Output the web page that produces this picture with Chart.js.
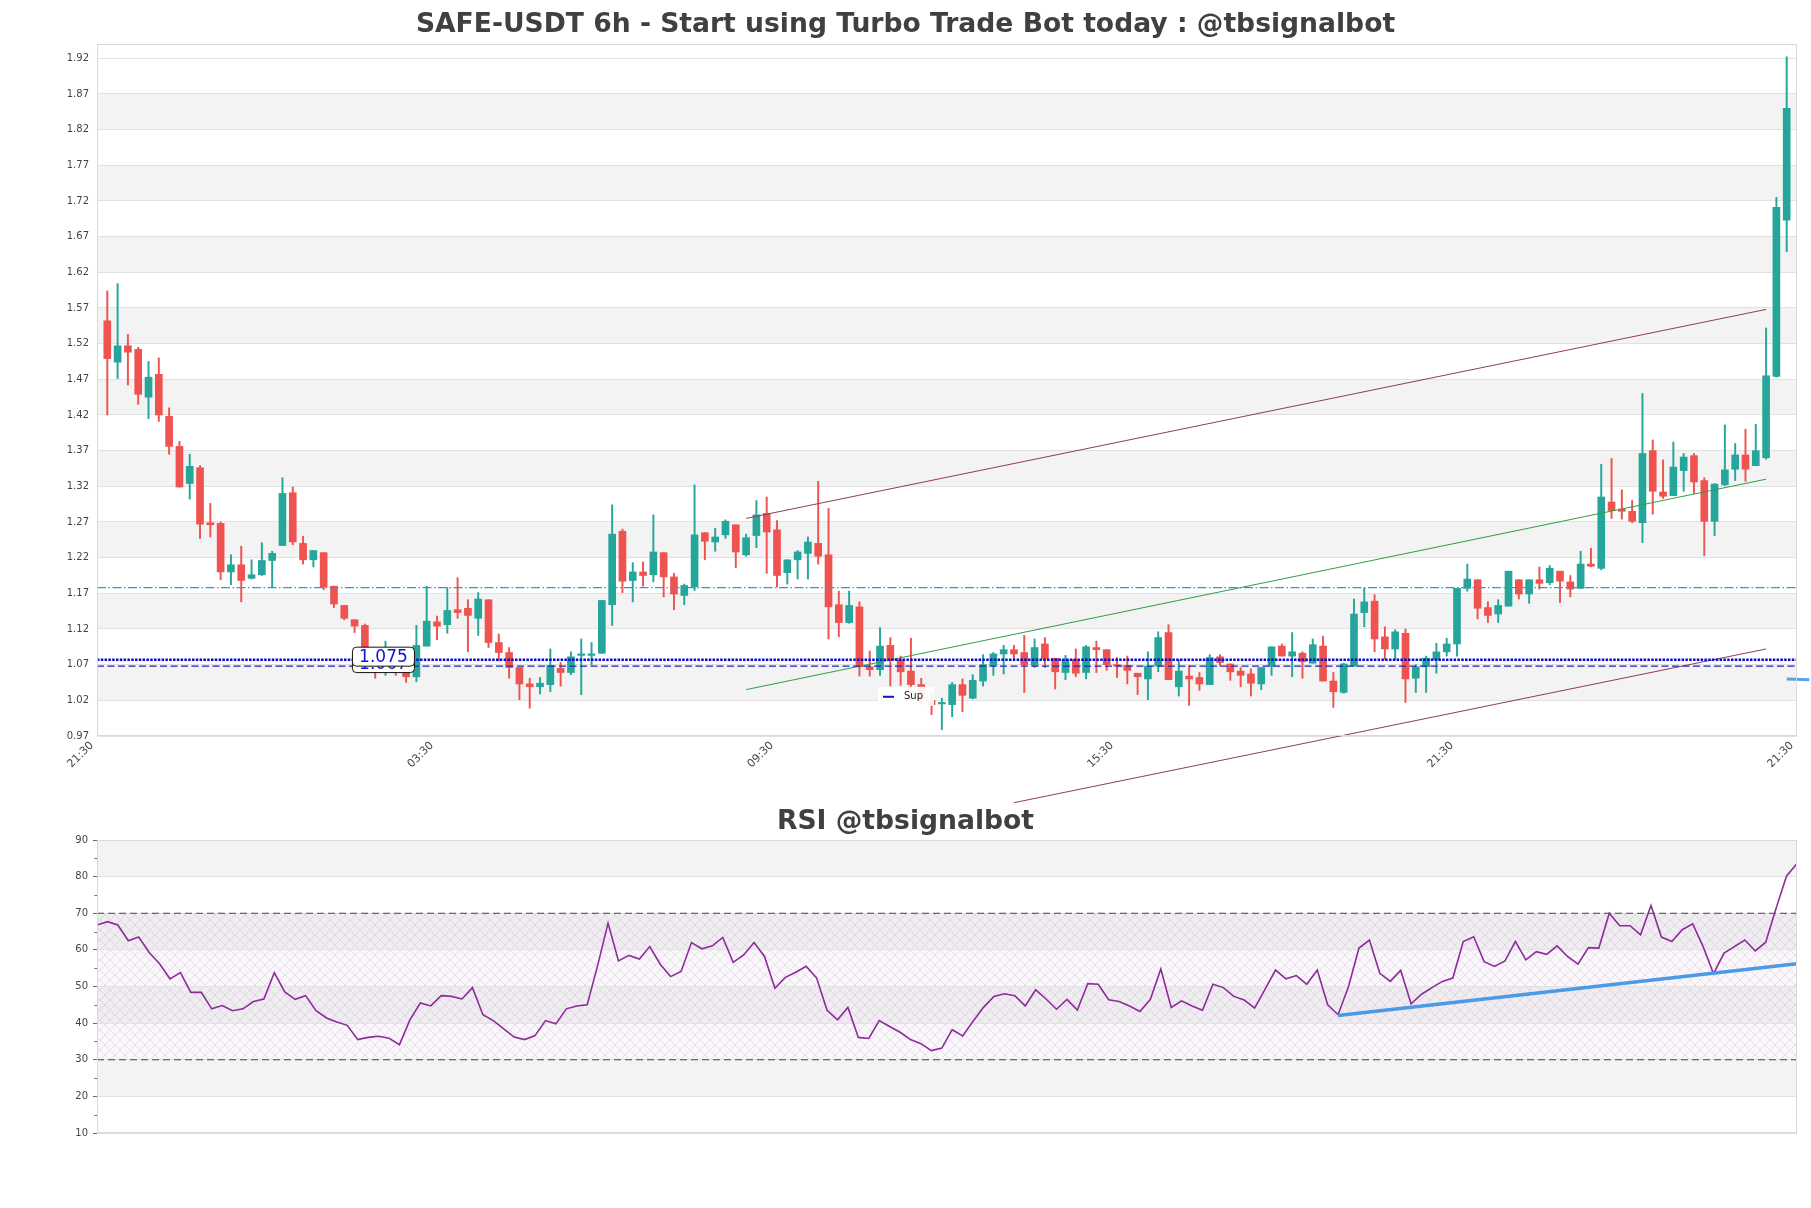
<!DOCTYPE html>
<html>
<head>
<meta charset="utf-8">
<script src="https://cdn.jsdelivr.net/npm/chart.js"></script>
<style>
  body { margin: 0; background: #fff; width: 1811px; height: 1208px; overflow: hidden; position: relative; }
  #main { position: absolute; left: 0; top: 0; }
  #rsi { position: absolute; left: 0; top: 790px; }
</style>
</head>
<body>
<canvas id="main" width="1811" height="820" style="width:1811px;height:820px"></canvas>
<canvas id="rsi" width="1811" height="418" style="width:1811px;height:418px"></canvas>

<script>
// candles, 6h, index 1..164
const opens = [1.552,1.494,1.517,1.512,1.445,1.477,1.418,1.376,1.324,1.346,1.269,1.268,1.200,1.210,1.191,1.196,1.216,1.237,1.311,1.240,
  1.217,1.227,1.180,1.153,1.133,1.125,1.085,1.072,1.078,1.069,1.053,1.096,1.130,1.126,1.147,1.149,1.135,1.161,1.101,1.087,
  1.066,1.043,1.039,1.042,1.065,1.059,1.083,1.083,1.086,1.154,1.257,1.188,1.200,1.196,1.227,1.193,1.167,1.179,1.255,1.242,
  1.252,1.266,1.224,1.251,1.282,1.259,1.199,1.217,1.226,1.240,1.224,1.154,1.129,1.151,1.067,1.063,1.097,1.077,1.061,1.042,
  1.020,1.015,1.014,1.042,1.023,1.047,1.069,1.085,1.091,1.087,1.069,1.099,1.079,1.059,1.077,1.059,1.094,1.091,1.070,1.069,
  1.058,1.050,1.068,1.115,1.039,1.054,1.052,1.042,1.081,1.071,1.061,1.057,1.043,1.068,1.096,1.082,1.086,1.072,1.096,1.047,
  1.031,1.068,1.143,1.159,1.109,1.092,1.114,1.051,1.067,1.077,1.088,1.099,1.177,1.189,1.150,1.141,1.152,1.189,1.169,1.189,
  1.185,1.201,1.186,1.177,1.211,1.205,1.298,1.288,1.285,1.269,1.370,1.312,1.307,1.342,1.363,1.328,1.271,1.322,1.344,1.364,
  1.349,1.360,1.474,1.693];
const highs = [1.594,1.604,1.533,1.515,1.495,1.500,1.430,1.383,1.365,1.349,1.296,1.270,1.224,1.236,1.217,1.241,1.229,1.332,1.319,1.250,
  1.230,1.227,1.180,1.153,1.133,1.127,1.088,1.103,1.080,1.069,1.125,1.180,1.138,1.178,1.192,1.161,1.171,1.161,1.113,1.094,
  1.066,1.051,1.052,1.092,1.073,1.088,1.106,1.101,1.160,1.294,1.260,1.213,1.214,1.280,1.227,1.198,1.183,1.322,1.255,1.261,
  1.273,1.266,1.253,1.300,1.305,1.272,1.217,1.230,1.249,1.327,1.289,1.173,1.173,1.158,1.089,1.122,1.108,1.082,1.107,1.051,
  1.029,1.023,1.045,1.050,1.056,1.084,1.087,1.097,1.097,1.111,1.106,1.108,1.079,1.083,1.092,1.097,1.103,1.091,1.080,1.082,
  1.058,1.088,1.116,1.126,1.077,1.069,1.059,1.084,1.084,1.071,1.066,1.064,1.066,1.095,1.099,1.115,1.088,1.106,1.110,1.059,
  1.072,1.162,1.177,1.168,1.123,1.119,1.120,1.070,1.082,1.100,1.107,1.177,1.211,1.189,1.158,1.161,1.201,1.189,1.189,1.207,
  1.209,1.201,1.195,1.229,1.233,1.351,1.359,1.315,1.300,1.450,1.385,1.357,1.382,1.366,1.366,1.332,1.324,1.406,1.380,1.400,
  1.407,1.542,1.725,1.922];
const lows = [1.420,1.471,1.462,1.435,1.415,1.411,1.365,1.319,1.302,1.247,1.249,1.189,1.182,1.158,1.190,1.195,1.178,1.237,1.238,1.211,
  1.207,1.175,1.150,1.133,1.115,1.080,1.051,1.055,1.055,1.045,1.046,1.096,1.105,1.114,1.135,1.088,1.111,1.094,1.075,1.051,
  1.021,1.009,1.029,1.032,1.040,1.056,1.028,1.070,1.086,1.125,1.171,1.158,1.180,1.186,1.165,1.147,1.154,1.174,1.217,1.229,
  1.247,1.206,1.222,1.234,1.198,1.179,1.183,1.190,1.190,1.211,1.106,1.109,1.128,1.054,1.054,1.055,1.040,1.041,1.020,1.015,
  1.000,0.979,0.997,1.004,1.022,1.040,1.055,1.057,1.078,1.031,1.066,1.066,1.036,1.049,1.053,1.050,1.059,1.062,1.052,1.043,
  1.028,1.021,1.060,1.049,1.026,1.013,1.034,1.042,1.068,1.048,1.039,1.026,1.035,1.055,1.082,1.053,1.051,1.072,1.047,1.010,
  1.030,1.068,1.123,1.088,1.077,1.077,1.017,1.031,1.031,1.058,1.082,1.082,1.173,1.134,1.129,1.129,1.152,1.162,1.156,1.176,
  1.182,1.157,1.165,1.177,1.207,1.203,1.275,1.274,1.269,1.241,1.281,1.303,1.307,1.313,1.310,1.223,1.251,1.321,1.328,1.327,
  1.349,1.358,1.473,1.649];
const closes = [1.499,1.517,1.508,1.449,1.473,1.420,1.376,1.319,1.348,1.267,1.266,1.200,1.210,1.188,1.196,1.216,1.226,1.310,1.242,1.217,
  1.230,1.179,1.155,1.135,1.124,1.085,1.075,1.078,1.069,1.053,1.097,1.131,1.124,1.146,1.143,1.139,1.162,1.101,1.087,1.066,
  1.043,1.039,1.044,1.069,1.059,1.081,1.084,1.085,1.160,1.253,1.187,1.200,1.195,1.228,1.193,1.169,1.181,1.252,1.243,1.249,
  1.271,1.228,1.248,1.280,1.256,1.195,1.217,1.228,1.242,1.222,1.151,1.129,1.153,1.067,1.063,1.096,1.078,1.060,1.042,1.020,
  1.014,1.016,1.042,1.027,1.048,1.070,1.085,1.091,1.085,1.070,1.094,1.078,1.060,1.077,1.058,1.095,1.091,1.070,1.068,1.062,
  1.053,1.068,1.108,1.049,1.061,1.050,1.043,1.080,1.073,1.060,1.055,1.044,1.066,1.095,1.082,1.088,1.074,1.098,1.047,1.032,
  1.071,1.141,1.158,1.106,1.092,1.116,1.050,1.067,1.079,1.088,1.099,1.177,1.190,1.149,1.139,1.153,1.201,1.169,1.189,1.184,
  1.205,1.187,1.176,1.211,1.208,1.305,1.286,1.285,1.271,1.366,1.313,1.306,1.347,1.361,1.326,1.271,1.323,1.343,1.364,1.344,
  1.370,1.475,1.711,1.850];

const rsiValues = [66.8,67.7,66.8,62.5,63.5,59.3,56.2,52.1,53.8,48.4,48.4,43.9,44.8,43.4,43.9,45.9,46.6,53.8,48.5,46.5,
  47.5,43.4,41.4,40.3,39.4,35.5,36.1,36.4,35.9,34.1,40.9,45.5,44.7,47.5,47.3,46.6,49.7,42.3,40.7,38.4,
  36.2,35.5,36.6,40.7,39.8,43.9,44.7,45.0,55.7,67.3,57.0,58.5,57.5,60.9,56.1,52.7,54.1,62.0,60.3,61.1,
  63.4,56.6,58.6,62.0,58.2,49.5,52.5,53.9,55.5,52.3,43.5,40.9,44.3,36.1,35.8,40.7,39.1,37.5,35.5,34.4,
  32.5,33.2,38.2,36.5,40.5,44.3,47.3,48.0,47.5,44.7,49.1,46.6,43.8,46.5,43.6,50.8,50.6,46.4,45.9,44.7,
  43.2,46.5,54.8,44.3,46.1,44.7,43.5,50.6,49.7,47.3,46.3,44.1,49.3,54.5,52.1,53.0,50.6,54.5,45.0,42.3,
  50.0,60.5,62.7,53.6,51.4,54.4,45.3,47.9,49.7,51.4,52.3,62.3,63.6,56.8,55.5,57.0,62.3,57.3,59.5,58.8,
  61.1,58.2,56.1,60.6,60.5,70.0,66.6,66.6,64.1,72.1,63.5,62.3,65.5,67.1,60.9,53.5,59.1,60.9,62.7,59.7,
  62.1,71.4,80.2,83.6];

// axis ticks
const xTickPos = [0, 33, 66, 99, 132, 165];
const xTickLabels = ['21:30', '03:30', '09:30', '15:30', '21:30', '21:30'];
const priceTicks = [0.97,1.02,1.07,1.12,1.17,1.22,1.27,1.32,1.37,1.42,1.47,1.52,1.57,1.62,1.67,1.72,1.77,1.82,1.87,1.92];

// levels and trend lines
const levelDashDot = 1.178;
const levelDotted = 1.077, levelDottedText = '1.075';
const levelDashed = 1.068, levelDashedText = '1.067';
const resistanceLine = [{ x: 63, y: 1.275 }, { x: 162, y: 1.568 }];
const supportLine = [{ x: 63, y: 1.035 }, { x: 162, y: 1.330 }];
const channelLow = [{ x: 89, y: 0.8765 }, { x: 162, y: 1.092 }];
const projection = [{ x: 164, y: 1.050 }, { x: 166.2, y: 1.049 }];
const rsiTrend = [{ x: 120, y: 42.1 }, { x: 164, y: 56.2 }];
const rsiZone = [30, 70];

const UP = '#26a69a', DOWN = '#ef5350';
Chart.defaults.font.family = '"DejaVu Sans", sans-serif';
Chart.defaults.color = '#444';

const candleColors = opens.map((o, i) => closes[i] >= o ? UP : DOWN);
const bodies = opens.map((o, i) => ({ x: i + 1, y: [o, closes[i]] }));
const wicks = opens.map((o, i) => ({ x: i + 1, y: [lows[i], highs[i]] }));

function hline(v, x0, x1) { return [{ x: x0, y: v }, { x: x1, y: v }]; }

function drawBands(chart, ticks) {
  const { ctx, chartArea: a, scales: { y } } = chart;
  ctx.save();
  ctx.fillStyle = '#f3f3f3';
  for (let i = 1; i + 1 < ticks.length; i += 2) {
    const top = y.getPixelForValue(ticks[i + 1]);
    const bot = y.getPixelForValue(ticks[i]);
    ctx.fillRect(a.left, top, a.right - a.left, bot - top);
  }
  ctx.restore();
}

function roundRect(ctx, x, y, w, h, r) {
  ctx.beginPath();
  ctx.moveTo(x + r, y);
  ctx.arcTo(x + w, y, x + w, y + h, r);
  ctx.arcTo(x + w, y + h, x, y + h, r);
  ctx.arcTo(x, y + h, x, y, r);
  ctx.arcTo(x, y, x + w, y, r);
  ctx.closePath();
}

const mainDecor = {
  id: 'mainDecor',
  beforeDraw(chart) { drawBands(chart, priceTicks); },
  afterDatasetsDraw(chart) {
    const { ctx, scales: { x, y } } = chart;
    // value labels on the support levels
    const cx = x.getPixelForValue(27.8);
    [[levelDashed, levelDashedText], [levelDotted, levelDottedText]].forEach(([v, t]) => {
      const cy = y.getPixelForValue(v) - 3;
      ctx.save();
      roundRect(ctx, cx - 31, cy - 9.5, 62, 19, 4);
      ctx.fillStyle = '#fff';
      ctx.fill();
      ctx.strokeStyle = '#111';
      ctx.lineWidth = 1;
      ctx.stroke();
      ctx.fillStyle = '#1010d8';
      ctx.font = '17px "DejaVu Sans"';
      ctx.textAlign = 'center';
      ctx.textBaseline = 'middle';
      ctx.fillText(t, cx, cy + 1);
      ctx.restore();
    });
    // small "Sup" legend
    const lx = x.getPixelForValue(75.8), ly = y.getPixelForValue(1.039);
    ctx.save();
    ctx.fillStyle = 'rgba(255,255,255,0.9)';
    ctx.fillRect(lx, ly, 56, 19);
    ctx.strokeStyle = '#1010c0';
    ctx.lineWidth = 2;
    ctx.beginPath();
    ctx.moveTo(lx + 5, ly + 10);
    ctx.lineTo(lx + 16, ly + 10);
    ctx.stroke();
    ctx.fillStyle = '#222';
    ctx.font = '10px "DejaVu Sans"';
    ctx.textBaseline = 'middle';
    ctx.fillText('Sup', lx + 26, ly + 9.5);
    ctx.restore();
  },
  afterDraw(chart) {
    const { ctx, chartArea: a } = chart;
    ctx.save();
    ctx.strokeStyle = '#d9d9d9';
    ctx.lineWidth = 1;
    ctx.strokeRect(a.left + 0.5, a.top + 0.5, a.right - a.left - 1, a.bottom - a.top - 1);
    ctx.restore();
  }
};

new Chart(document.getElementById('main'), {
  type: 'bar',
  data: {
    datasets: [
      { type: 'line', data: hline(levelDotted, 0, 165), borderColor: '#0a0ad0', borderWidth: 2.5, borderDash: [2.5, 1.3], pointRadius: 0, order: -1 },
      { type: 'line', data: hline(levelDashed, 0, 165), borderColor: '#2222c4', borderWidth: 1.3, borderDash: [7, 3.5], pointRadius: 0, order: -1 },
      { type: 'line', data: hline(levelDashDot, 0, 165), borderColor: '#2a9ad6', borderWidth: 1.2, borderDash: [9, 2.5, 1.5, 2.5], pointRadius: 0, order: -1 },
      { type: 'line', data: resistanceLine, borderColor: '#8c3f52', borderWidth: 1, pointRadius: 0, order: -1 },
      { type: 'line', data: supportLine, borderColor: '#2e9e44', borderWidth: 1, pointRadius: 0, order: -1 },
      { type: 'line', data: channelLow, borderColor: '#8c3f52', borderWidth: 1, pointRadius: 0, clip: false, order: -1 },
      { type: 'line', data: projection, borderColor: '#5aa2ea', borderWidth: 3, pointRadius: 0, clip: false, order: -1 },
      { data: bodies, backgroundColor: candleColors, barThickness: 7, minBarLength: 1.5, grouped: false, order: 1 },
      { data: wicks, backgroundColor: candleColors, barThickness: 1.3, grouped: false, order: 2 }
    ]
  },
  options: {
    responsive: false,
    animation: false,
    layout: { padding: { left: 14, right: 14, top: 0, bottom: 0 } },
    plugins: {
      legend: { display: false },
      tooltip: { enabled: false },
      title: {
        display: true,
        text: 'SAFE-USDT 6h - Start using Turbo Trade Bot today : @tbsignalbot',
        color: '#404040',
        font: { size: 26.6, weight: 'bold' },
        padding: { top: 9, bottom: 3.1 }
      }
    },
    scales: {
      x: {
        type: 'linear', min: 0, max: 165, offset: false,
        grid: { display: false, drawTicks: false },
        border: { display: false },
        afterBuildTicks: s => { s.ticks = xTickPos.map(v => ({ value: v })); },
        afterFit: s => { s.height = 84; },
        ticks: {
          autoSkip: false, minRotation: 45, maxRotation: 45, padding: 3, labelOffset: -5,
          font: { size: 11 }, color: '#444',
          callback: (v, i) => xTickLabels[i]
        }
      },
      y: {
        min: 0.97, max: 1.94,
        afterBuildTicks: s => { s.ticks = priceTicks.map(v => ({ value: v })); },
        afterFit: s => { s.width = 83; },
        grid: { color: '#e1e1e1', drawTicks: false },
        border: { display: false },
        ticks: { padding: 8, font: { size: 10 }, color: '#444', callback: v => v.toFixed(2) }
      }
    }
  },
  plugins: [mainDecor]
});

// RSI panel
function hatchPattern(ctx) {
  const c = document.createElement('canvas');
  c.width = 10; c.height = 10;
  const g = c.getContext('2d');
  g.strokeStyle = 'rgba(170,130,180,0.28)';
  g.lineWidth = 0.8;
  g.beginPath();
  g.moveTo(0, 0); g.lineTo(10, 10);
  g.moveTo(0, 10); g.lineTo(10, 0);
  g.stroke();
  return ctx.createPattern(c, 'repeat');
}

const rsiDecor = {
  id: 'rsiDecor',
  beforeDraw(chart) {
    const { ctx, chartArea: a, scales: { y } } = chart;
    drawBands(chart, y.ticks.map(t => t.value));
    const top = y.getPixelForValue(rsiZone[1]), bot = y.getPixelForValue(rsiZone[0]);
    ctx.save();
    ctx.fillStyle = 'rgba(230,210,235,0.18)';
    ctx.fillRect(a.left, top, a.right - a.left, bot - top);
    ctx.fillStyle = hatchPattern(ctx);
    ctx.fillRect(a.left, top, a.right - a.left, bot - top);
    ctx.restore();
  },
  afterDraw(chart) {
    const { ctx, chartArea: a, scales: { y } } = chart;
    ctx.save();
    ctx.strokeStyle = '#d9d9d9';
    ctx.lineWidth = 1;
    ctx.strokeRect(a.left + 0.5, a.top + 0.5, a.right - a.left - 1, a.bottom - a.top - 1);
    // minor ticks every 5
    ctx.strokeStyle = '#666';
    ctx.beginPath();
    for (let v = 15; v < 90; v += 10) {
      const py = Math.round(y.getPixelForValue(v)) + 0.5;
      ctx.moveTo(a.left - 2.5, py);
      ctx.lineTo(a.left, py);
    }
    ctx.stroke();
    ctx.restore();
  }
};

new Chart(document.getElementById('rsi'), {
  type: 'line',
  data: {
    datasets: [
      { data: rsiTrend, borderColor: '#4a9ae6', borderWidth: 3.5, pointRadius: 0, order: 0 },
      { data: rsiValues.map((v, i) => ({ x: i + 1, y: v })), borderColor: '#8e2b9b', borderWidth: 1.6, pointRadius: 0, tension: 0, order: 1 },
      { data: hline(rsiZone[1], 1, 164), borderColor: '#444', borderWidth: 1.2, borderDash: [7, 4], pointRadius: 0, order: 2 },
      { data: hline(rsiZone[0], 1, 164), borderColor: '#444', borderWidth: 1.2, borderDash: [7, 4], pointRadius: 0, order: 2 }
    ]
  },
  options: {
    responsive: false,
    animation: false,
    layout: { padding: { left: 14, right: 14, top: 0, bottom: 75 } },
    plugins: {
      legend: { display: false },
      tooltip: { enabled: false },
      title: {
        display: true,
        text: 'RSI @tbsignalbot',
        color: '#404040',
        font: { size: 26.6, weight: 'bold' },
        padding: { top: 16.5, bottom: 1.6 }
      }
    },
    scales: {
      x: { type: 'linear', min: 1, max: 164, display: false },
      y: {
        min: 10, max: 90,
        afterFit: s => { s.width = 83; },
        grid: { color: '#e1e1e1', tickLength: 4, tickColor: '#666' },
        border: { display: false },
        ticks: { stepSize: 10, padding: 5, font: { size: 10 }, color: '#444' }
      }
    }
  },
  plugins: [rsiDecor]
});
</script>
</body>
</html>
